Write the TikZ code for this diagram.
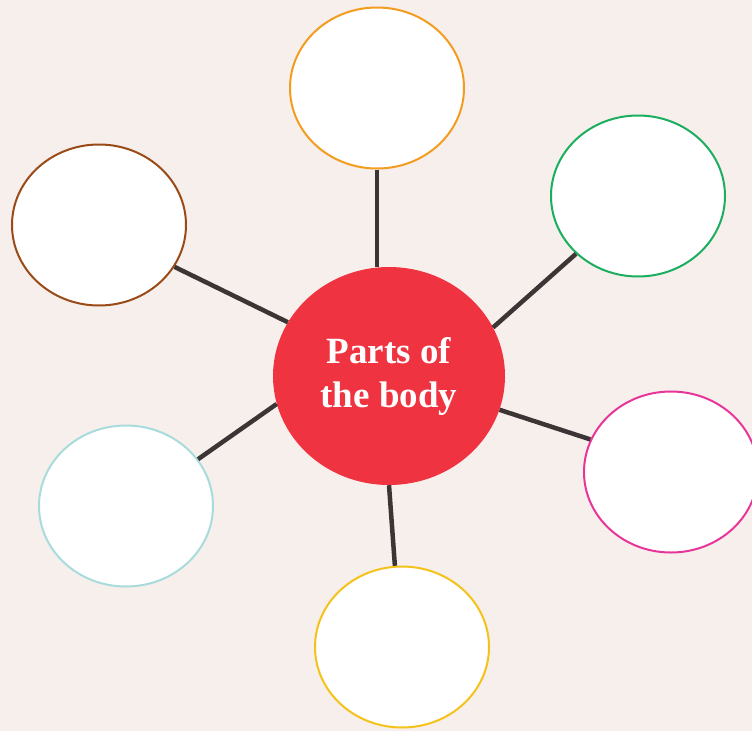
\documentclass[tikz,border=0pt]{standalone}
\usepackage{fontspec}
\setmainfont{Liberation Serif}
\usetikzlibrary{shapes.geometric}

\definecolor{paper}{RGB}{247,239,235}
\definecolor{hubred}{RGB}{239,51,64}
\definecolor{linkgray}{RGB}{59,53,53}
\definecolor{ringorange}{RGB}{243,156,31}
\definecolor{ringgreen}{RGB}{26,174,94}
\definecolor{ringbrown}{RGB}{154,74,22}
\definecolor{ringpink}{RGB}{232,53,154}
\definecolor{ringcyan}{RGB}{168,220,220}
\definecolor{ringyellow}{RGB}{245,194,27}

\begin{document}
\begin{tikzpicture}[
    x=1pt, y=-1pt,
    part/.style={ellipse, draw=#1, line width=2pt, fill=white,
        minimum width=174pt, minimum height=161pt, inner sep=0pt},
    hub/.style={ellipse, fill=hubred, minimum width=232pt,
        minimum height=218pt, inner sep=0pt, text=white,
        font=\fontsize{37}{44}\selectfont\bfseries, align=center},
    link/.style={line width=4.5pt, draw=linkgray}
]
    \fill[paper] (0,0) rectangle (752,731);
    \useasboundingbox (0,0) rectangle (752,731);
    \node[hub] (body) at (389,376) {Parts of\\the body};
    \node[part=ringorange] (top) at (377,88) {};
    \node[part=ringgreen] (upright) at (638,196) {};
    \node[part=ringbrown] (upleft) at (99,225) {};
    \node[part=ringpink] (lowright) at (671,472) {};
    \node[part=ringcyan] (lowleft) at (126,506) {};
    \node[part=ringyellow] (bottom) at (402,647) {};
    \draw[link] (top.south) -- (top.south |- body.north);
    \draw[link] (body.25) -- (upright.223);
    \draw[link] (body.152) -- (upleft.331);
    \draw[link] (body.343) -- (lowright.158);
    \draw[link] (body.194) -- (lowleft.33);
    \draw[link] (body.270) -- (bottom.95);
\end{tikzpicture}
\end{document}
